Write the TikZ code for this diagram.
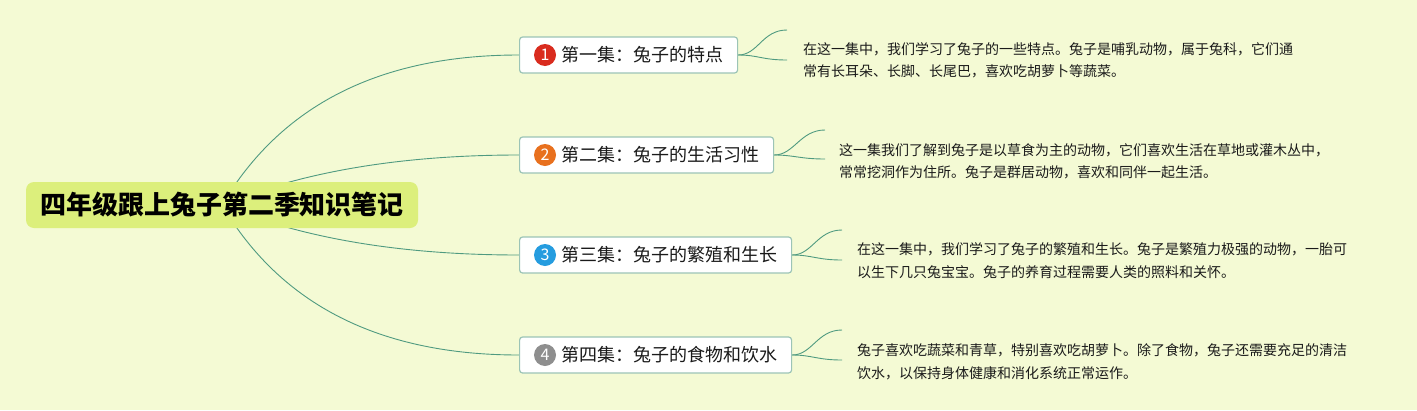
\documentclass[tikz,border=0pt]{standalone}
\usepackage{fontspec}
\setmainfont{Noto Sans CJK SC}
\usetikzlibrary{backgrounds,calc}
\definecolor{bgcol}{HTML}{F4FAD4}
\definecolor{rootfill}{HTML}{DCEF7C}
\definecolor{conncol}{HTML}{4F9A80}
\definecolor{boxline}{HTML}{9CC4B6}
\definecolor{numred}{HTML}{D92B1E}
\definecolor{numorange}{HTML}{E8701E}
\definecolor{numblue}{HTML}{259CDF}
\definecolor{numgray}{HTML}{8E8E8E}
\definecolor{txt}{HTML}{1A1A1A}
\tikzset{
  rootbox/.style={fill=rootfill, rounded corners=8pt, minimum width=392pt, minimum height=46pt, inner sep=0pt, text=black, font=\fontsize{26}{30}\selectfont\bfseries},
  branchbox/.style={draw=boxline, line width=1.2pt, fill=white, rounded corners=3pt, minimum height=36pt, inner xsep=14pt, inner ysep=0pt, anchor=west, text=txt, font=\fontsize{18}{22}\selectfont},
  numdot/.style={circle, minimum size=22pt, inner sep=0pt, text=white, font=\fontsize{16}{16}\selectfont},
  notetext/.style={anchor=west, align=left, inner sep=0pt, text=txt, font=\fontsize{14}{22.5}\selectfont},
  conn/.style={draw=conncol, line width=0.9pt},
}
\begin{document}
\begin{tikzpicture}[x=1pt,y=-1pt]
\useasboundingbox (0,0) rectangle (1417,410);

\node[rootbox] (root) at (222,205) {四年级跟上兔子第二季知识笔记};

\node[branchbox] (b1) at (519,55) {\hspace*{28pt}第一集：兔子的特点};
\node[branchbox] (b2) at (519,155) {\hspace*{28pt}第二集：兔子的生活习性};
\node[branchbox] (b3) at (519,255) {\hspace*{28pt}第三集：兔子的繁殖和生长};
\node[branchbox] (b4) at (519,355) {\hspace*{28pt}第四集：兔子的食物和饮水};

\node[numdot, fill=numred] (k1) at ($(b1.west)+(26,0)$) {1};
\node[numdot, fill=numorange] (k2) at ($(b2.west)+(26,0)$) {2};
\node[numdot, fill=numblue] (k3) at ($(b3.west)+(26,0)$) {3};
\node[numdot, fill=numgray] (k4) at ($(b4.west)+(26,0)$) {4};

\node[notetext] (n1) at (803,60.5) {在这一集中，我们学习了兔子的一些特点。兔子是哺乳动物，属于兔科，它们通\\常有长耳朵、长脚、长尾巴，喜欢吃胡萝卜等蔬菜。};
\node[notetext] (n2) at (839,161.5) {这一集我们了解到兔子是以草食为主的动物，它们喜欢生活在草地或灌木丛中，\\常常挖洞作为住所。兔子是群居动物，喜欢和同伴一起生活。};
\node[notetext] (n3) at (857,260.5) {在这一集中，我们学习了兔子的繁殖和生长。兔子是繁殖力极强的动物，一胎可\\以生下几只兔宝宝。兔子的养育过程需要人类的照料和关怀。};
\node[notetext] (n4) at (857,362) {兔子喜欢吃蔬菜和青草，特别喜欢吃胡萝卜。除了食物，兔子还需要充足的清洁\\饮水，以保持身体健康和消化系统正常运作。};

\coordinate (u1) at (787,30);  \coordinate (l1) at (787,60);
\coordinate (u2) at (825,130); \coordinate (l2) at (825,159);
\coordinate (u3) at (842,230); \coordinate (l3) at (842,260);
\coordinate (u4) at (842,330); \coordinate (l4) at (842,360);

\begin{scope}[on background layer]
  \fill[bgcol] (0,0) rectangle (1417,410);
  \draw[conn] (root.center) .. controls (281,105) and (380,55) .. (b1.west);
  \draw[conn] (root.center) .. controls (301,172) and (400,155) .. (b2.west);
  \draw[conn] (root.center) .. controls (301,238) and (400,255) .. (b3.west);
  \draw[conn] (root.center) .. controls (281,305) and (380,355) .. (b4.west);
  \foreach \i in {1,2,3,4}{
    \draw[conn] (b\i.east) .. controls +(20,0) and +(-25,0) .. (u\i);
    \draw[conn] (b\i.east) .. controls +(20,0) and +(-25,0) .. (l\i);
  }
\end{scope}
\end{tikzpicture}
\end{document}
